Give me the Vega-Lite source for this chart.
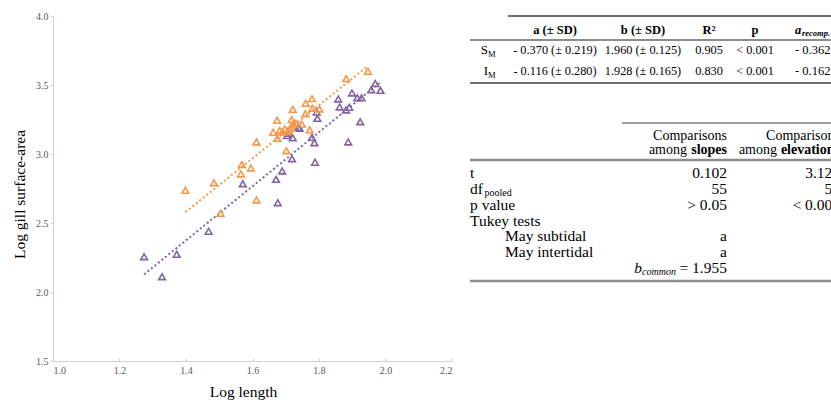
{
  "$schema": "https://vega.github.io/schema/vega-lite/v6.json",
  "width": 399,
  "height": 345,
  "autosize": {"type": "none"},
  "padding": {"left": 53, "top": 16, "right": 379, "bottom": 39},
  "background": "white",
  "config": {"view": {"stroke": null}, "font": "Liberation Serif", "axis": {"labelFont": "Liberation Serif", "titleFont": "Liberation Serif"}},
  "datasets": {
    "pts": [
      {"site": "subtidal", "length": 1.274, "area": 2.256},
      {"site": "subtidal", "length": 1.328, "area": 2.111},
      {"site": "subtidal", "length": 1.372, "area": 2.273},
      {"site": "subtidal", "length": 1.468, "area": 2.440},
      {"site": "subtidal", "length": 1.571, "area": 2.785},
      {"site": "subtidal", "length": 1.671, "area": 2.816},
      {"site": "subtidal", "length": 1.676, "area": 2.647},
      {"site": "subtidal", "length": 1.689, "area": 2.877},
      {"site": "subtidal", "length": 1.704, "area": 3.133},
      {"site": "subtidal", "length": 1.710, "area": 3.150},
      {"site": "subtidal", "length": 1.719, "area": 2.966},
      {"site": "subtidal", "length": 1.721, "area": 3.118},
      {"site": "subtidal", "length": 1.738, "area": 3.193},
      {"site": "subtidal", "length": 1.742, "area": 3.186},
      {"site": "subtidal", "length": 1.779, "area": 3.121},
      {"site": "subtidal", "length": 1.786, "area": 3.082},
      {"site": "subtidal", "length": 1.788, "area": 2.940},
      {"site": "subtidal", "length": 1.793, "area": 3.304},
      {"site": "subtidal", "length": 1.795, "area": 3.258},
      {"site": "subtidal", "length": 1.858, "area": 3.399},
      {"site": "subtidal", "length": 1.862, "area": 3.341},
      {"site": "subtidal", "length": 1.881, "area": 3.319},
      {"site": "subtidal", "length": 1.891, "area": 3.338},
      {"site": "subtidal", "length": 1.888, "area": 3.087},
      {"site": "subtidal", "length": 1.899, "area": 3.442},
      {"site": "subtidal", "length": 1.915, "area": 3.408},
      {"site": "subtidal", "length": 1.928, "area": 3.408},
      {"site": "subtidal", "length": 1.924, "area": 3.234},
      {"site": "subtidal", "length": 1.957, "area": 3.466},
      {"site": "subtidal", "length": 1.969, "area": 3.510},
      {"site": "subtidal", "length": 1.985, "area": 3.461},
      {"site": "intertidal", "length": 1.398, "area": 2.737},
      {"site": "intertidal", "length": 1.484, "area": 2.792},
      {"site": "intertidal", "length": 1.504, "area": 2.570},
      {"site": "intertidal", "length": 1.565, "area": 2.855},
      {"site": "intertidal", "length": 1.568, "area": 2.923},
      {"site": "intertidal", "length": 1.595, "area": 2.899},
      {"site": "intertidal", "length": 1.612, "area": 3.087},
      {"site": "intertidal", "length": 1.612, "area": 2.667},
      {"site": "intertidal", "length": 1.662, "area": 3.157},
      {"site": "intertidal", "length": 1.674, "area": 3.244},
      {"site": "intertidal", "length": 1.675, "area": 3.113},
      {"site": "intertidal", "length": 1.682, "area": 3.171},
      {"site": "intertidal", "length": 1.690, "area": 3.160},
      {"site": "intertidal", "length": 1.697, "area": 3.181},
      {"site": "intertidal", "length": 1.702, "area": 3.024},
      {"site": "intertidal", "length": 1.706, "area": 3.167},
      {"site": "intertidal", "length": 1.712, "area": 3.181},
      {"site": "intertidal", "length": 1.717, "area": 3.198},
      {"site": "intertidal", "length": 1.718, "area": 3.249},
      {"site": "intertidal", "length": 1.721, "area": 3.324},
      {"site": "intertidal", "length": 1.722, "area": 3.217},
      {"site": "intertidal", "length": 1.730, "area": 3.225},
      {"site": "intertidal", "length": 1.748, "area": 3.217},
      {"site": "intertidal", "length": 1.759, "area": 3.292},
      {"site": "intertidal", "length": 1.760, "area": 3.367},
      {"site": "intertidal", "length": 1.772, "area": 3.176},
      {"site": "intertidal", "length": 1.779, "area": 3.401},
      {"site": "intertidal", "length": 1.780, "area": 3.331},
      {"site": "intertidal", "length": 1.801, "area": 3.326},
      {"site": "intertidal", "length": 1.882, "area": 3.546},
      {"site": "intertidal", "length": 1.947, "area": 3.599}
    ],
    "fit": [
      {"site": "subtidal", "length": 1.274, "area": 2.127},
      {"site": "subtidal", "length": 1.985, "area": 3.521},
      {"site": "intertidal", "length": 1.398, "area": 2.579},
      {"site": "intertidal", "length": 1.947, "area": 3.638}
    ],
    "t1": [
      {"r": 0, "c": 1, "text": "a (± SD)"},
      {"r": 0, "c": 2, "text": "b (± SD)"},
      {"r": 0, "c": 3, "text": "R²"},
      {"r": 0, "c": 4, "text": "p"},
      {"r": 0, "c": 5, "text": "a", "sub": "recomp."},
      {"r": 1, "c": 0, "text": "S", "sub": "M"},
      {"r": 1, "c": 1, "text": "- 0.370 (± 0.219)"},
      {"r": 1, "c": 2, "text": "1.960 (± 0.125)"},
      {"r": 1, "c": 3, "text": "0.905"},
      {"r": 1, "c": 4, "text": "< 0.001"},
      {"r": 1, "c": 5, "text": "- 0.362"},
      {"r": 2, "c": 0, "text": "I", "sub": "M"},
      {"r": 2, "c": 1, "text": "- 0.116 (± 0.280)"},
      {"r": 2, "c": 2, "text": "1.928 (± 0.165)"},
      {"r": 2, "c": 3, "text": "0.830"},
      {"r": 2, "c": 4, "text": "< 0.001"},
      {"r": 2, "c": 5, "text": "- 0.162"}
    ],
    "t1lines": [
      {"edge": "top", "y": -0.5, "x1": 0.5, "x2": 5.5},
      {"edge": "head", "y": 0.5, "x1": -0.5, "x2": 5.5},
      {"edge": "bottom", "y": 2.5, "x1": -0.5, "x2": 5.5}
    ],
    "t2": [
      {"r": 0, "c": 1, "text": "Comparisons"},
      {"r": 0, "c": 2, "text": "Comparisons"},
      {"r": 1, "c": 1, "text": "among", "term": "slopes"},
      {"r": 1, "c": 2, "text": "among", "term": "elevations"},
      {"r": 2, "c": 0, "text": "t", "level": 1},
      {"r": 2, "c": 1, "text": "0.102"},
      {"r": 2, "c": 2, "text": "3.125"},
      {"r": 3, "c": 0, "text": "df", "sub": "pooled", "level": 1},
      {"r": 3, "c": 1, "text": "55"},
      {"r": 3, "c": 2, "text": "56"},
      {"r": 4, "c": 0, "text": "p value", "level": 1},
      {"r": 4, "c": 1, "text": "> 0.05"},
      {"r": 4, "c": 2, "text": "< 0.001"},
      {"r": 5, "c": 0, "text": "Tukey tests", "level": 1},
      {"r": 6, "c": 0, "text": "May subtidal", "level": 2},
      {"r": 6, "c": 1, "text": "a"},
      {"r": 6, "c": 2, "text": "a"},
      {"r": 7, "c": 0, "text": "May intertidal", "level": 2},
      {"r": 7, "c": 1, "text": "a"},
      {"r": 7, "c": 2, "text": "b"},
      {"r": 8, "c": 1, "text": "= 1.955", "sym": "b", "sub": "common"}
    ],
    "t2lines": [
      {"edge": "top", "y": -0.5, "x1": 0.5, "x2": 2.5},
      {"edge": "head", "y": 1.5, "x1": 0, "x2": 2.5},
      {"edge": "bottom", "y": 8.5, "x1": 0, "x2": 2.5}
    ]
  },
  "layer": [
    {
      "layer": [
        {
          "data": {"name": "fit"},
          "mark": {"type": "line", "strokeDash": [2, 2.5], "strokeWidth": 2},
          "encoding": {
            "x": {"field": "length", "type": "quantitative", "scale": {"domain": [1, 2.2], "nice": false, "zero": false}},
            "y": {"field": "area", "type": "quantitative", "scale": {"domain": [1.5, 4], "nice": false, "zero": false}},
            "color": {"field": "site", "type": "nominal", "scale": {"domain": ["subtidal", "intertidal"], "range": ["#8064A2", "#F79646"]}, "legend": null},
            "detail": {"field": "site"}
          }
        },
        {
          "data": {"name": "pts"},
          "mark": {"type": "point", "shape": "triangle-up", "filled": false, "strokeWidth": 1.6, "size": 45, "opacity": 1},
          "encoding": {
            "x": {
              "field": "length", "type": "quantitative",
              "scale": {"domain": [1, 2.2], "nice": false, "zero": false},
              "axis": {
                "title": "Log length", "values": [1, 1.2, 1.4, 1.6, 1.8, 2, 2.2], "format": ".1f", "grid": false,
                "domainColor": "#d0d0d0", "tickColor": "#d0d0d0", "tickSize": -3, "labelPadding": 7,
                "labelFont": "Liberation Serif", "labelFontSize": 10, "labelColor": "#595959",
                "titleFont": "Liberation Serif", "titleFontSize": 15.5, "titleFontWeight": "normal", "titleColor": "#000000",
                "titleX": 190, "titleY": 30, "titleBaseline": "middle", "titleAlign": "center"
              }
            },
            "y": {
              "field": "area", "type": "quantitative",
              "scale": {"domain": [1.5, 4], "nice": false, "zero": false},
              "axis": {
                "title": "Log gill surface-area", "values": [1.5, 2, 2.5, 3, 3.5, 4], "format": ".1f", "grid": false,
                "domainColor": "#d0d0d0", "tickColor": "#d0d0d0", "tickSize": 3, "labelPadding": 2,
                "labelFont": "Liberation Serif", "labelFontSize": 10, "labelColor": "#595959",
                "titleFont": "Liberation Serif", "titleFontSize": 15.5, "titleFontWeight": "normal", "titleColor": "#000000",
                "titleX": -34, "titleY": 178, "titleBaseline": "middle", "titleAlign": "center", "titleAngle": -90
              }
            },
            "color": {"field": "site", "type": "nominal", "scale": {"domain": ["subtidal", "intertidal"], "range": ["#8064A2", "#F79646"]}, "legend": null}
          }
        }
      ]
    },
    {
      "layer": [
        {
          "layer": [
            {
              "data": {"name": "t1lines"},
              "transform": [{"filter": "datum.edge != 'head'"}],
              "mark": {"type": "rule", "color": "#404040", "strokeWidth": 1.3},
              "encoding": {
                "x": {"field": "x1", "type": "quantitative", "scale": {"domain": [-0.5, 0, 0.5, 1, 2, 3, 4, 5, 5.5], "range": [417, 435, 455, 502, 590, 656, 702, 742, 847], "nice": false, "zero": false}, "axis": null},
                "x2": {"field": "x2"},
                "y": {"field": "y", "type": "quantitative", "scale": {"domain": [-0.5, 0, 0.5, 1, 2, 2.5], "range": [0, 14, 24, 34, 55, 67], "nice": false, "zero": false}, "axis": null}
              }
            },
            {
              "data": {"name": "t1lines"},
              "transform": [{"filter": "datum.edge == 'head'"}],
              "mark": {"type": "rule", "color": "#8c8c8c", "strokeWidth": 2},
              "encoding": {
                "x": {"field": "x1", "type": "quantitative", "scale": {"domain": [-0.5, 0, 0.5, 1, 2, 3, 4, 5, 5.5], "range": [417, 435, 455, 502, 590, 656, 702, 742, 847], "nice": false, "zero": false}, "axis": null},
                "x2": {"field": "x2"},
                "y": {"field": "y", "type": "quantitative", "scale": {"domain": [-0.5, 0, 0.5, 1, 2, 2.5], "range": [0, 14, 24, 34, 55, 67], "nice": false, "zero": false}, "axis": null}
              }
            },
            {
              "data": {"name": "t1"},
              "encoding": {
                "x": {"field": "c", "type": "quantitative", "scale": {"domain": [-0.5, 0, 0.5, 1, 2, 3, 4, 5, 5.5], "range": [417, 435, 455, 502, 590, 656, 702, 742, 847], "nice": false, "zero": false}, "axis": null},
                "y": {"field": "r", "type": "quantitative", "scale": {"domain": [-0.5, 0, 0.5, 1, 2, 2.5], "range": [0, 14, 24, 34, 55, 67], "nice": false, "zero": false}, "axis": null}
              },
              "layer": [
                {
                  "transform": [{"filter": "datum.r == 0 && datum.c >= 1 && datum.c <= 4"}],
                  "mark": {"type": "text", "align": "center", "baseline": "middle", "fontWeight": "bold", "fontSize": 12.5, "color": "#000000", "font": "Liberation Serif"},
                  "encoding": {"text": {"field": "text"}}
                },
                {
                  "transform": [{"filter": "datum.r == 0 && datum.c == 5"}],
                  "mark": {"type": "text", "align": "left", "baseline": "middle", "fontWeight": "bold", "fontStyle": "italic", "fontSize": 12.5, "color": "#000000", "font": "Liberation Serif"},
                  "encoding": {"text": {"field": "text"}}
                },
                {
                  "transform": [{"filter": "datum.r == 0 && datum.c == 5"}],
                  "mark": {"type": "text", "align": "left", "baseline": "middle", "fontWeight": "bold", "fontStyle": "italic", "fontSize": 8.5, "dx": 7, "dy": 3, "color": "#000000", "font": "Liberation Serif"},
                  "encoding": {"text": {"field": "sub"}}
                },
                {
                  "transform": [{"filter": "datum.r > 0 && datum.c >= 1 && datum.c <= 4"}],
                  "mark": {"type": "text", "align": "center", "baseline": "middle", "fontSize": 12.3, "color": "#000000", "font": "Liberation Serif"},
                  "encoding": {"text": {"field": "text"}}
                },
                {
                  "transform": [{"filter": "datum.r > 0 && datum.c == 5"}],
                  "mark": {"type": "text", "align": "left", "baseline": "middle", "fontSize": 12.5, "color": "#000000", "font": "Liberation Serif"},
                  "encoding": {"text": {"field": "text"}}
                },
                {
                  "transform": [{"filter": "datum.c == 0"}],
                  "mark": {"type": "text", "align": "right", "baseline": "middle", "fontSize": 13, "color": "#000000", "font": "Liberation Serif"},
                  "encoding": {"text": {"field": "text"}}
                },
                {
                  "transform": [{"filter": "datum.c == 0"}],
                  "mark": {"type": "text", "align": "left", "baseline": "middle", "fontSize": 8.5, "dy": 3.5, "color": "#000000", "font": "Liberation Serif"},
                  "encoding": {"text": {"field": "sub"}}
                }
              ]
            }
          ]
        },
        {
          "layer": [
            {
              "data": {"name": "t2lines"},
              "transform": [{"filter": "datum.edge == 'top'"}],
              "mark": {"type": "rule", "color": "#404040", "strokeWidth": 1.2},
              "encoding": {
                "x": {"field": "x1", "type": "quantitative", "scale": {"domain": [0, 0.5, 1, 2, 2.5], "range": [417, 569, 674, 787, 847], "nice": false, "zero": false}, "axis": null},
                "x2": {"field": "x2"},
                "y": {"field": "y", "type": "quantitative", "scale": {"domain": [-0.5, 0, 1, 1.5, 2, 8, 8.5], "range": [107, 120, 134, 144, 157, 252, 265], "nice": false, "zero": false}, "axis": null}
              }
            },
            {
              "data": {"name": "t2lines"},
              "transform": [{"filter": "datum.edge != 'top'"}],
              "mark": {"type": "rule", "color": "#8c8c8c", "strokeWidth": 2.5},
              "encoding": {
                "x": {"field": "x1", "type": "quantitative", "scale": {"domain": [0, 0.5, 1, 2, 2.5], "range": [417, 569, 674, 787, 847], "nice": false, "zero": false}, "axis": null},
                "x2": {"field": "x2"},
                "y": {"field": "y", "type": "quantitative", "scale": {"domain": [-0.5, 0, 1, 1.5, 2, 8, 8.5], "range": [107, 120, 134, 144, 157, 252, 265], "nice": false, "zero": false}, "axis": null}
              }
            },
            {
              "data": {"name": "t2"},
              "encoding": {
                "x": {"field": "c", "type": "quantitative", "scale": {"domain": [0, 0.5, 1, 2, 2.5], "range": [417, 569, 674, 787, 847], "nice": false, "zero": false}, "axis": null},
                "y": {"field": "r", "type": "quantitative", "scale": {"domain": [-0.5, 0, 1, 1.5, 2, 8, 8.5], "range": [107, 120, 134, 144, 157, 252, 265], "nice": false, "zero": false}, "axis": null}
              },
              "layer": [
                {
                  "transform": [{"filter": "datum.r == 0"}],
                  "mark": {"type": "text", "align": "right", "baseline": "middle", "fontSize": 14, "color": "#000000", "font": "Liberation Serif"},
                  "encoding": {"text": {"field": "text"}}
                },
                {
                  "transform": [{"filter": "datum.r == 1"}],
                  "mark": {"type": "text", "align": "right", "baseline": "middle", "fontSize": 14, "fontWeight": "bold", "color": "#000000", "font": "Liberation Serif"},
                  "encoding": {"text": {"field": "term"}}
                },
                {
                  "transform": [{"filter": "datum.r == 1 && datum.c == 1"}],
                  "mark": {"type": "text", "align": "right", "baseline": "middle", "fontSize": 14, "dx": -40, "color": "#000000", "font": "Liberation Serif"},
                  "encoding": {"text": {"field": "text"}}
                },
                {
                  "transform": [{"filter": "datum.r == 1 && datum.c == 2"}],
                  "mark": {"type": "text", "align": "right", "baseline": "middle", "fontSize": 14, "dx": -63, "color": "#000000", "font": "Liberation Serif"},
                  "encoding": {"text": {"field": "text"}}
                },
                {
                  "transform": [{"filter": "datum.level == 1"}],
                  "mark": {"type": "text", "align": "left", "baseline": "middle", "fontSize": 15.5, "color": "#000000", "font": "Liberation Serif"},
                  "encoding": {"text": {"field": "text"}}
                },
                {
                  "transform": [{"filter": "datum.level == 2"}],
                  "mark": {"type": "text", "align": "left", "baseline": "middle", "fontSize": 15.5, "dx": 35, "color": "#000000", "font": "Liberation Serif"},
                  "encoding": {"text": {"field": "text"}}
                },
                {
                  "transform": [{"filter": "datum.c == 0 && datum.sub"}],
                  "mark": {"type": "text", "align": "left", "baseline": "middle", "fontSize": 10, "dx": 14.5, "dy": 4.5, "color": "#000000", "font": "Liberation Serif"},
                  "encoding": {"text": {"field": "sub"}}
                },
                {
                  "transform": [{"filter": "datum.r >= 2 && datum.c >= 1"}],
                  "mark": {"type": "text", "align": "right", "baseline": "middle", "fontSize": 15.5, "color": "#000000", "font": "Liberation Serif"},
                  "encoding": {"text": {"field": "text"}}
                },
                {
                  "transform": [{"filter": "datum.sym"}],
                  "mark": {"type": "text", "align": "right", "baseline": "middle", "fontSize": 10, "fontStyle": "italic", "dx": -51, "dy": 4, "color": "#000000", "font": "Liberation Serif"},
                  "encoding": {"text": {"field": "sub"}}
                },
                {
                  "transform": [{"filter": "datum.sym"}],
                  "mark": {"type": "text", "align": "right", "baseline": "middle", "fontSize": 15.5, "fontStyle": "italic", "dx": -85, "color": "#000000", "font": "Liberation Serif"},
                  "encoding": {"text": {"field": "sym"}}
                }
              ]
            }
          ]
        }
      ],
      "resolve": {"scale": {"x": "independent", "y": "independent"}}
    }
  ],
  "resolve": {"scale": {"x": "independent", "y": "independent", "color": "independent"}}
}
